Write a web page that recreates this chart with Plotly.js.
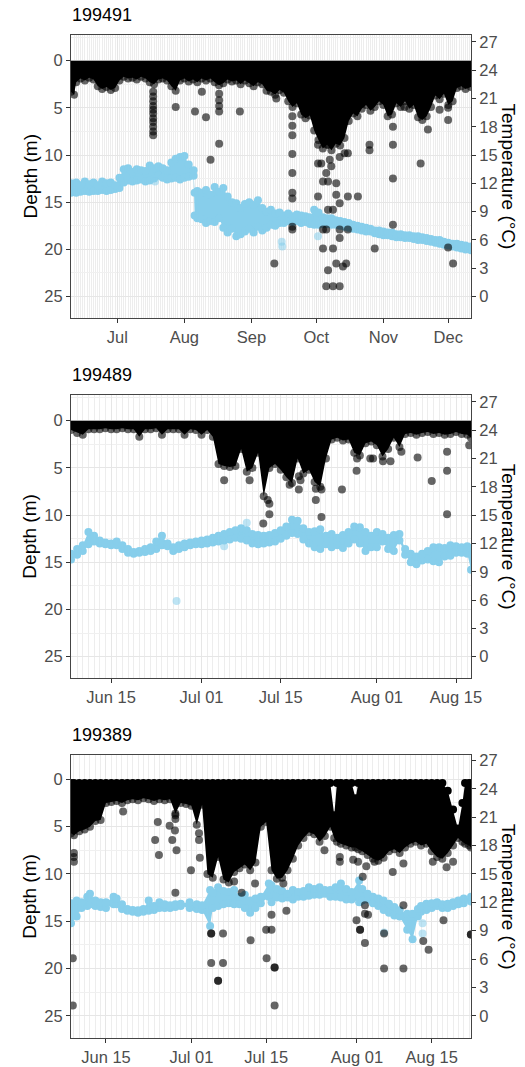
<!DOCTYPE html>
<html><head><meta charset="utf-8">
<script src="https://cdn.plot.ly/plotly-3.0.1.min.js"></script>
<style>html,body{margin:0;padding:0;background:#fff;}#chart{width:525px;height:1067px;}</style>
</head><body><div id="chart"></div>
<script>
const YEAR = '2019-';
const panelTitles = ['199491', '199489', '199389'];
const depthTitle = 'Depth (m)';
const tempTitle = 'Temperature (°C)';
const depthTicks = [0, 5, 10, 15, 20, 25];
const tempTicks = [0, 3, 6, 9, 12, 15, 18, 21, 24, 27];
const p1TickVals = ['07-01', '08-01', '09-01', '10-01', '11-01', '12-01'];
const p1TickText = ['Jul', 'Aug', 'Sep', 'Oct', 'Nov', 'Dec'];
const p23TickVals = ['06-15', '07-01', '07-15', '08-01', '08-15'];
const p23TickText = ['Jun 15', 'Jul 01', 'Jul 15', 'Aug 01', 'Aug 15'];

// ---------- Panel 1 (199491) ----------
const p1BandDate = [
 '06-09 14:24','06-11','06-12','06-14','06-16','06-18','06-20','06-22','06-24','06-26',
 '06-28','06-30','07-02','07-04','07-06','07-08','07-10','07-12','07-14','07-16',
 '07-18','07-20','07-22','07-24','07-26','07-28','07-30','08-01','08-03','08-05',
 '08-07','08-09','08-11','08-13','08-15','08-17','08-19','08-21','08-23','08-25',
 '08-27','08-29','08-31','09-02','09-04','09-06','09-08','09-10','09-12','09-14',
 '09-16','09-18','09-20','09-22','09-24','09-26','09-28','09-30','10-02','10-04',
 '10-06','10-08','10-10','10-12','10-14','10-16','10-18','10-20','10-22','10-24',
 '10-26','10-28','10-30','11-01','11-03','11-05','11-07','11-09','11-11','11-13',
 '11-15','11-17','11-19','11-21','11-23','11-25','11-27','11-29','12-01','12-03',
 '12-05','12-07','12-09','12-11 12:00'];
const p1BandBottom = [
 3.3,3.6,2.3,1.9,2.1,1.8,2.0,2.7,3.0,2.8,
 3.1,2.9,2.1,1.7,1.9,1.8,2.0,1.7,1.9,2.3,
 2.5,2.0,1.9,2.1,2.7,3.2,2.1,1.9,2.2,2.0,
 2.3,1.9,2.1,1.9,2.3,2.6,2.4,2.0,2.2,2.1,
 2.5,2.1,2.4,2.7,2.3,2.5,3.2,3.3,3.6,3.1,
 3.4,4.3,4.9,4.5,5.7,6.1,5.8,7.4,8.4,9.3,
 8.9,9.5,8.8,9.0,8.2,6.4,5.6,5.9,5.1,4.7,
 5.3,4.9,4.3,4.7,5.9,5.7,4.5,4.9,4.3,5.1,
 4.7,6.0,6.3,5.9,4.9,3.7,4.1,3.5,4.7,4.3,
 2.9,2.7,3.0,2.8];
const p1TempDate = [
 '06-09 14:24','06-12','06-14','06-16','06-18','06-20','06-22','06-24','06-26','06-28',
 '06-30','07-02','07-04','07-06','07-08','07-10','07-12','07-14','07-16','07-18',
 '07-20','07-22','07-24','07-26','07-28','07-30','08-01','08-03','08-05 06:00','08-05 18:00',
 '08-07','08-09','08-11','08-13','08-15','08-17','08-19','08-21','08-23','08-25',
 '08-27','08-29','08-31','09-02','09-04','09-06','09-08','09-10','09-12','09-14',
 '09-16','09-18','09-20','09-22','09-24','09-26','09-28','09-30','10-02','10-04',
 '10-06','10-08','10-10','10-12','10-14','10-16','10-18','10-20','10-22','10-24',
 '10-26','10-28','10-30','11-01','11-03','11-05','11-07','11-09','11-11','11-13',
 '11-15','11-17','11-19','11-21','11-23','11-25','11-27','11-29','12-01','12-03',
 '12-05','12-07','12-09','12-11 12:00'];
const p1TempHigh = [
 12.0,12.1,11.8,12.2,11.9,12.1,11.8,12.2,12.0,12.1,
 11.8,12.6,13.5,13.6,13.2,13.5,13.4,13.3,13.9,13.6,
 13.8,13.6,13.4,14.2,14.6,14.8,14.9,14.0,13.4,11.0,
 11.2,11.0,11.3,10.8,11.6,11.1,11.5,10.6,10.0,9.9,
 9.4,9.8,10.0,9.7,10.2,9.4,9.0,9.2,8.8,8.9,
 8.6,8.8,8.5,8.7,8.6,8.5,8.4,9.2,8.9,8.4,
 8.3,8.3,8.1,8.0,7.9,7.8,7.6,7.5,7.4,7.3,
 7.2,7.0,7.0,6.9,6.8,6.8,6.6,6.6,6.5,6.5,
 6.4,6.4,6.3,6.2,6.1,6.0,6.0,5.8,5.7,5.6,
 5.6,5.5,5.4,5.3];
const p1TempLow = [
 11.0,11.0,11.1,11.2,11.1,11.2,11.2,11.3,11.2,11.3,
 11.4,11.5,12.1,12.3,12.2,12.3,12.4,12.2,12.3,12.5,
 12.8,12.6,12.4,12.5,12.6,12.4,12.6,12.7,12.8,8.6,
 8.3,8.2,7.8,8.0,7.9,8.3,7.3,6.8,7.2,6.4,
 6.6,6.9,7.2,6.8,7.4,7.0,7.3,7.6,7.5,7.8,
 7.8,8.0,7.9,8.0,7.8,7.9,7.7,7.6,7.6,7.7,
 7.7,7.6,7.6,7.5,7.4,7.3,7.2,7.1,7.0,6.9,
 6.9,6.7,6.6,6.5,6.5,6.4,6.3,6.3,6.2,6.2,
 6.1,6.0,6.0,5.9,5.8,5.7,5.6,5.5,5.4,5.3,
 5.2,5.1,5.0,4.9];
const p1PtDate = ['07-17 14:00','07-28','08-05 22:00','08-09 02:00','08-11','08-13 02:00','08-17 02:00','08-26 16:00',
 '09-11 14:00','09-12 12:00','09-19 22:00','10-01 19:00','10-03 07:00','10-04 02:00','10-05 14:00','10-06 10:00',
 '10-07 05:00','10-07 22:00','10-08 17:00','10-10 05:00','10-11 19:00','10-13 07:00','10-14 02:00','10-14 19:00',
 '10-15 14:00','10-20 05:00','10-25 14:00','10-28','11-05 10:00','11-10 19:00','11-18 05:00','11-21 14:00',
 '11-27','11-30 22:00','12-03 05:00'];
const p1PtDepth = [[3.3,3.8,4.3,4.8,5.2,5.6,6.1,6.5,7.0,7.5,7.9],[4.9],[5.4],[3.3],[6.0],[10.5],[3.5,4.2,4.8,5.4,8.8],[5.4],
 [21.5],[4.0],[5.9,6.9,7.9,9.9,11.9,14.0,14.6,17.6,17.9],[8.9,10.9,14.4],[10.9],[12.8,17.9,19.9],[11.9,17.9,23.9],[8.9,12.8,15.8,22.2],
 [10.5],[11.2],[15.8,19.9,23.9],[13.0,14.2,21.5],[10.2,15.1,17.9,18.8,23.9],[21.8],[9.8],[21.5],
 [9.8,14.4,17.9],[14.4],[8.9,9.5],[19.9],[7.0,8.9,12.5,17.4],[4.9],[10.9],[7.3],
 [5.2],[5.0,6.3,19.8],[21.5]];
const p1PaleDate = ['07-18 10:00','09-15','09-15 06:00','10-01 19:00'];
const p1PaleTemp = [12.2, 5.8, 5.3, 6.4];

// ---------- Panel 2 (199489) ----------
const p2Date = [
 '06-07 22:05','06-09','06-10','06-11','06-12','06-13','06-14','06-15','06-16','06-17',
 '06-18','06-19','06-20','06-21','06-22','06-23','06-24','06-25','06-26','06-27',
 '06-28','06-29','06-30','07-01','07-02','07-03','07-04','07-05','07-06','07-07',
 '07-08','07-09','07-10','07-11','07-12','07-13','07-14','07-15','07-16','07-17',
 '07-18','07-19','07-20','07-21','07-22','07-23','07-24','07-25','07-26','07-27',
 '07-28','07-29','07-30','07-31','08-01','08-02','08-03','08-04','08-05','08-06',
 '08-07','08-08','08-09','08-10','08-11','08-12','08-13','08-14','08-15','08-16',
 '08-17','08-17 15:36'];
const p2BandBottom = [
 1.0,1.3,1.5,0.9,0.9,0.9,0.8,0.9,0.9,0.8,
 0.9,0.9,1.7,0.9,0.9,0.8,1.5,0.9,0.9,0.9,
 1.5,0.9,1.0,1.5,1.0,1.7,4.6,4.8,4.9,4.8,
 3.0,5.4,5.0,3.4,8.0,5.0,4.6,5.2,6.0,6.6,
 4.0,5.6,5.2,6.5,7.0,4.0,2.0,1.8,2.1,2.0,
 3.4,3.7,2.4,2.2,2.6,3.8,3.0,1.8,2.8,1.4,
 1.3,1.5,1.3,1.2,1.4,1.3,1.5,1.4,1.2,1.4,
 1.5,1.8];
const p2TempHigh = [
 10.9,11.4,11.8,13.2,12.8,12.3,12.1,12.0,12.2,11.8,
 11.4,11.1,11.2,11.4,11.6,12.2,12.8,12.0,11.6,11.8,
 12.0,12.1,12.2,12.3,12.4,12.6,12.8,13.0,13.2,13.4,
 13.6,13.4,13.0,12.9,12.8,12.9,13.1,13.4,13.8,14.5,
 14.4,13.6,13.2,13.3,13.5,12.8,13.0,12.6,12.9,13.2,
 13.8,13.7,13.2,12.8,13.2,13.0,12.6,12.9,13.0,11.4,
 10.9,10.6,10.9,11.2,11.6,11.6,11.5,11.8,11.7,11.6,
 11.7,11.5];
const p2TempLow = [
 10.3,10.8,11.2,11.9,12.2,12.0,11.9,11.8,11.8,11.4,
 11.0,10.9,11.0,11.1,11.2,11.4,11.8,11.7,11.2,11.4,
 11.6,11.8,11.9,11.9,12.0,12.1,12.2,12.3,12.4,12.6,
 12.5,12.3,12.0,11.9,12.0,12.1,12.2,12.5,12.8,13.1,
 13.0,12.4,12.0,11.6,11.4,11.9,11.6,11.8,11.5,12.0,
 12.4,12.0,11.2,11.6,11.6,12.2,11.4,11.2,12.3,10.8,
 10.0,9.8,10.2,10.3,10.1,10.0,10.6,10.7,11.0,11.0,
 10.9,9.2];
const p2PtDate = ['07-05','07-09 12:00','07-11 22:00','07-12 17:00','07-13','07-16 14:00','07-18 05:00','07-18 12:00',
 '07-21 05:00','07-22 05:00','07-25 20:00','07-28 10:00','07-28 12:00','07-30 20:00','07-31 08:00','08-02 02:00',
 '08-03 10:00','08-05 08:00','08-08 05:00','08-10 17:00','08-13 10:00','08-17 08:00'];
const p2PtDepth = [[6.3],[6.3],[10.9],[8.4],[8.8,9.9],[6.8],[5.9,7.3],[6.3],
 [7.2,8.4],[7.3,10.2],[7.3],[5.3],[4.0],[4.0],[4.0],[4.3],
 [4.3],[3.3],[3.9],[6.4],[3.3,5.3,9.9],[2.6]];
const p2PaleDate = ['06-26 14:00','07-05','07-09'];
const p2PaleTemp = [5.9, 11.7, 14.2];

// ---------- Panel 3 (199389) ----------
const p3BandDate = [
 '06-08 10:48','06-09','06-10','06-11','06-12','06-13','06-14','06-15','06-16','06-17',
 '06-18','06-19','06-20','06-21','06-22','06-23','06-24','06-25','06-26','06-27',
 '06-28','06-29','06-30','07-01','07-02','07-03','07-04','07-05','07-06','07-07',
 '07-08','07-09','07-10','07-11','07-12','07-13','07-14','07-15','07-16','07-17',
 '07-18','07-19','07-20','07-21','07-22','07-23','07-24','07-25','07-26','07-27',
 '07-27 18:00','07-28 06:00','07-29','07-30','07-31','07-31 18:00','08-01 06:00','08-02','08-03','08-04',
 '08-05','08-06','08-07','08-08','08-09','08-10','08-11','08-12','08-13','08-14',
 '08-15','08-16','08-17','08-18','08-19','08-19 22:00','08-20 18:00','08-21 06:00','08-22','08-22 08:38'];
const p3BandTop = [
 0.4,0.4,0.4,0.4,0.4,0.4,0.4,0.4,0.4,0.4,
 0.4,0.4,0.4,0.4,0.4,0.4,0.4,0.4,0.4,0.4,
 0.4,0.4,0.4,0.4,0.4,0.4,0.4,0.4,0.4,0.4,
 0.4,0.4,0.4,0.4,0.4,0.4,0.4,0.4,0.4,0.4,
 0.4,0.4,0.4,0.4,0.4,0.4,0.4,0.4,0.4,0.4,
 3.8,0.4,0.4,0.4,0.4,2.0,0.4,0.4,0.4,0.4,
 0.4,0.4,0.4,0.4,0.4,0.4,0.4,0.4,0.4,0.4,
 0.4,0.4,0.4,1.2,3.2,5.2,2.5,0.4,0.4,0.4];
const p3BandBottom = [
 5.7,5.9,5.5,5.3,5.0,4.4,4.3,2.5,2.4,2.3,
 2.5,2.2,2.1,2.2,2.0,2.1,2.3,2.1,2.2,2.1,
 3.6,2.5,2.6,2.8,4.8,2.7,10.0,10.4,8.2,10.6,
 10.9,9.8,9.4,9.0,9.6,8.8,5.0,4.5,9.6,10.5,
 10.4,9.6,8.4,7.0,6.2,5.6,5.8,6.6,6.0,5.0,
 6.2,6.6,6.8,7.0,7.2,7.2,7.4,7.6,8.0,8.4,
 8.6,8.3,7.6,7.4,7.8,7.2,6.8,6.6,7.0,6.8,
 7.6,8.2,8.4,7.8,7.0,6.2,6.6,6.8,7.0,7.2];
const p3TempDate = [
 '06-08 10:48','06-09 12:00','06-10 10:00','06-11 12:00','06-12','06-13','06-14','06-15','06-16 10:00','06-17',
 '06-18','06-19','06-20','06-21','06-22','06-23','06-24','06-25','06-26','06-27',
 '06-28','06-29','06-30 16:00','07-02','07-03','07-04 12:00','07-05','07-06','07-07','07-08',
 '07-09','07-10','07-11','07-12','07-13','07-14','07-15 12:00','07-16','07-17','07-18',
 '07-19','07-20','07-21','07-22','07-23','07-24','07-25','07-26','07-27','07-28',
 '07-29','07-30','07-31','08-01 10:00','08-02','08-03','08-04','08-05','08-06','08-07',
 '08-08','08-09','08-10 10:00','08-11 10:00','08-12 10:00','08-13','08-14','08-15','08-16','08-17',
 '08-18','08-19','08-20','08-21','08-22 08:38'];
const p3TempHigh = [
 11.9,12.2,12.0,12.6,12.9,12.2,12.0,12.0,12.6,12.4,
 11.8,11.3,11.2,11.15,11.3,12.2,11.6,12.0,11.8,11.7,
 11.8,11.85,12.0,11.8,11.7,13.3,13.0,13.6,13.2,13.1,
 13.3,12.6,12.8,12.2,12.4,12.6,14.0,13.8,13.4,13.2,
 12.9,13.3,13.1,13.2,13.6,13.4,13.6,13.3,13.3,13.6,
 14.0,13.4,13.1,14.3,13.4,12.9,12.6,12.4,12.2,11.85,
 11.5,11.15,10.8,10.8,11.3,11.6,11.85,11.9,12.0,11.8,
 11.85,12.0,12.2,12.4,12.6];
const p3TempLow = [
 9.8,10.5,11.4,11.6,11.8,11.6,11.5,11.4,11.8,11.8,
 11.3,11.1,11.0,10.9,11.0,11.1,11.2,11.4,11.4,11.4,
 11.5,11.6,11.4,11.3,11.2,9.5,11.4,11.6,11.8,11.9,
 11.8,11.8,11.4,10.9,11.4,11.9,12.6,12.0,12.5,12.4,
 12.5,12.3,12.6,12.6,12.7,12.8,12.8,12.9,12.6,12.6,
 12.5,12.3,12.3,12.0,12.2,12.3,11.9,11.6,11.2,10.9,
 10.6,10.5,9.1,8.1,10.5,11.0,11.2,11.4,11.6,11.4,
 11.4,11.6,11.8,11.9,12.1];
const p3PtDate = ['06-08 19:00','06-09','06-18 05:00','06-24 05:00','06-24 17:00','06-24 22:00','06-26 22:00','06-27 10:00',
 '06-27 22:00','06-28','06-28 05:00','06-30 22:00','07-02 10:00','07-02 14:00','07-04 17:00','07-06',
 '07-06 22:00','07-09','07-10 10:00','07-12 02:00','07-12 22:00','07-15','07-15 02:00','07-16',
 '07-16 14:00','07-18 05:00','07-18 19:00','07-25 22:00','07-28 19:00','07-31 07:00','07-31 22:00','08-01 05:00',
 '08-01 14:00','08-02 02:00','08-02 12:00','08-02 18:00','08-03 02:00','08-04 07:00','08-06 02:00','08-07 17:00',
 '08-09 17:00','08-13 10:00','08-14 10:00','08-15 05:00','08-17 05:00','08-17 19:00','08-19','08-22 08:00'];
const p3PtDepth = [[18.9,23.9],[7.8,8.2,8.7],[3.4],[6.4],[4.5],[8.0],[4.9],[6.4],
 [5.4],[3.8,4.2,12.0],[7.5],[9.6],[5.7,6.4],[8.3],[16.3,16.3,19.4],[21.3,21.3],
 [16.3,19.4],[10.8],[12.0],[17.0],[11.0],[15.9],[18.9],[14.3,15.9],
 [19.9,19.9,23.9],[11.0],[13.9],[7.5],[8.2,8.7],[8.5],[14.9],[8.7],
 [15.9,15.9],[10.3],[13.3,14.2,17.3],[9.2],[14.3],[8.7],[16.3,20.0],[9.8],
 [8.9,13.3,20.0],[17.1],[18.0],[8.7],[14.9],[9.3],[8.7],[16.4,16.4]];
const p3PaleDate = ['08-06 02:00','08-13 07:00','08-13 07:00'];
const p3PaleTemp = [8.8, 9.8, 8.7];

// ---------- Layout geometry ----------
const W = 525, H = 1067;
const xDom = [71 / W, 471 / W];
const panelsPx = [[35, 318], [395, 678.3], [755, 1038.3]];
const depthRanges = [[27.27, -2.72], [27.29, -2.72], [27.37, -2.57]];
const tempRanges = [[-2.27, 27.72], [-2.29, 27.72], [-2.37, 27.57]];
const xRanges = [['06-09 14:24', '12-11 12:00'], ['06-07 22:05', '08-17 15:36'], ['06-08 10:48', '08-22 08:38']];

const d = arr => arr.map(s => YEAR + s);
function flat(dates, groups) {
  const x = [], y = [];
  dates.forEach((dt, i) => groups[i].forEach(v => { x.push(YEAR + dt); y.push(v); }));
  return { x, y };
}

const SKY = '#87CEEB';
const PT = 'rgba(0,0,0,0.6)';
const MS = 8;
const NOLINE = { width: 0, color: 'rgba(0,0,0,0)' };

const panels = [
  { band: { x: p1BandDate, bottom: p1BandBottom }, temp: { x: p1TempDate, hi: p1TempHigh, lo: p1TempLow },
    pts: flat(p1PtDate, p1PtDepth), pale: { x: p1PaleDate, y: p1PaleTemp } },
  { band: { x: p2Date, bottom: p2BandBottom }, temp: { x: p2Date, hi: p2TempHigh, lo: p2TempLow },
    pts: flat(p2PtDate, p2PtDepth), pale: { x: p2PaleDate, y: p2PaleTemp } },
  { band: { x: p3BandDate, top: p3BandTop, bottom: p3BandBottom }, temp: { x: p3TempDate, hi: p3TempHigh, lo: p3TempLow },
    pts: flat(p3PtDate, p3PtDepth), pale: { x: p3PaleDate, y: p3PaleTemp } }
];

const axIds = [
  { x: 'x', yD: 'y', yT: 'y2', yP: 'y7' },
  { x: 'x2', yD: 'y3', yT: 'y4', yP: 'y8' },
  { x: 'x3', yD: 'y5', yT: 'y6', yP: 'y9' }
];

const traces = [];
panels.forEach((p, i) => {
  const a = axIds[i];
  if (p.band.top) {
    traces.push({ type: 'scatter', x: d(p.band.x), y: p.band.top, xaxis: a.x, yaxis: a.yD, mode: 'lines+markers',
      line: NOLINE, marker: { size: MS, color: '#000' }, hoverinfo: 'skip' });
    traces.push({ type: 'scatter', x: d(p.band.x), y: p.band.bottom, xaxis: a.x, yaxis: a.yD, mode: 'lines+markers',
      fill: 'tonexty', fillcolor: '#000', line: NOLINE, marker: { size: MS, color: PT }, hoverinfo: 'skip' });
  } else {
    traces.push({ type: 'scatter', x: d(p.band.x), y: p.band.bottom, xaxis: a.x, yaxis: a.yD, mode: 'lines+markers',
      fill: 'tozeroy', fillcolor: '#000', line: NOLINE, marker: { size: MS, color: PT }, hoverinfo: 'skip' });
  }
  traces.push({ type: 'scatter', x: d(p.temp.x), y: p.temp.lo, xaxis: a.x, yaxis: a.yT, mode: 'lines+markers',
    line: NOLINE, marker: { size: MS, color: SKY }, hoverinfo: 'skip' });
  traces.push({ type: 'scatter', x: d(p.temp.x), y: p.temp.hi, xaxis: a.x, yaxis: a.yT, mode: 'lines+markers',
    fill: 'tonexty', fillcolor: SKY, line: NOLINE, marker: { size: MS, color: SKY }, hoverinfo: 'skip' });
  traces.push({ type: 'scatter', x: d(p.pale.x), y: p.pale.y, xaxis: a.x, yaxis: a.yT, mode: 'markers',
    marker: { size: MS, color: 'rgba(135,206,235,0.55)' }, hoverinfo: 'skip' });
  traces.push({ type: 'scatter', x: p.pts.x, y: p.pts.y, xaxis: a.x, yaxis: a.yP, mode: 'markers',
    marker: { size: MS, color: PT }, hoverinfo: 'skip' });
});

const tickFont = { family: 'Liberation Sans, Arial, sans-serif', size: 16.5, color: '#4D4D4D' };
const layout = {
  width: W, height: H, margin: { l: 0, r: 0, t: 0, b: 0 },
  paper_bgcolor: '#fff', plot_bgcolor: '#fff', showlegend: false,
  font: { family: 'Liberation Sans, Arial, sans-serif' },
  annotations: []
};

panelsPx.forEach((px, i) => {
  const a = axIds[i];
  const xKey = a.x === 'x' ? 'xaxis' : 'xaxis' + a.x.slice(1);
  const yD = 'yaxis' + (a.yD === 'y' ? '' : a.yD.slice(1));
  const yT = 'yaxis' + a.yT.slice(1);
  const yP = 'yaxis' + a.yP.slice(1);
  const dom = [1 - px[1] / H, 1 - px[0] / H];
  const tv = i === 0 ? p1TickVals : p23TickVals;
  const tt = i === 0 ? p1TickText : p23TickText;
  layout[xKey] = {
    type: 'date', domain: xDom, anchor: a.yD, range: d(xRanges[i]), autorange: false,
    tickmode: 'array', tickvals: d(tv), ticktext: tt,
    showgrid: true, gridcolor: '#E6E6E6', gridwidth: 1,
    minor: { tickmode: 'linear', tick0: YEAR + '06-01', dtick: 86400000, showgrid: true, gridcolor: '#EDEDED', gridwidth: 1, ticks: '' },
    ticks: 'outside', ticklen: 4, tickcolor: '#333', tickwidth: 1,
    showline: true, mirror: true, linecolor: '#444', linewidth: 1,
    tickfont: tickFont, zeroline: false, fixedrange: true
  };
  layout[yD] = {
    domain: dom, anchor: a.x, range: depthRanges[i], autorange: false,
    tickmode: 'array', tickvals: depthTicks,
    showgrid: true, gridcolor: '#E6E6E6', gridwidth: 1,
    minor: { tickmode: 'linear', tick0: 0, dtick: 2.5, showgrid: true, gridcolor: '#F0F0F0', gridwidth: 1, ticks: '' },
    ticks: 'outside', ticklen: 4, tickcolor: '#333', tickwidth: 1,
    showline: true, mirror: true, linecolor: '#444', linewidth: 1,
    tickfont: tickFont, zeroline: false, fixedrange: true
  };
  layout[yT] = {
    overlaying: a.yD, anchor: a.x, side: 'right', range: tempRanges[i], autorange: false,
    tickmode: 'array', tickvals: tempTicks,
    showgrid: false, zeroline: false, showline: false,
    ticks: 'outside', ticklen: 4, tickcolor: '#333', tickwidth: 1,
    tickfont: tickFont, fixedrange: true
  };
  layout[yP] = {
    overlaying: a.yD, anchor: a.x, range: depthRanges[i], autorange: false, visible: false, fixedrange: true
  };
  const midY = 1 - ((px[0] + px[1]) / 2) / H;
  layout.annotations.push(
    { text: panelTitles[i], xref: 'paper', yref: 'paper', x: 70 / W, y: 1 - (px[0] - 20) / H,
      xanchor: 'left', yanchor: 'middle', showarrow: false, font: { size: 18, color: '#000' } },
    { text: depthTitle, xref: 'paper', yref: 'paper', x: 30 / W, y: midY, textangle: -90,
      xanchor: 'center', yanchor: 'middle', showarrow: false, font: { size: 19, color: '#000' } },
    { text: tempTitle, xref: 'paper', yref: 'paper', x: 508 / W, y: midY, textangle: 90,
      xanchor: 'center', yanchor: 'middle', showarrow: false, font: { size: 19, color: '#000' } }
  );
});

Plotly.newPlot('chart', traces, layout, { staticPlot: true, displayModeBar: false });
</script>
</body></html>
